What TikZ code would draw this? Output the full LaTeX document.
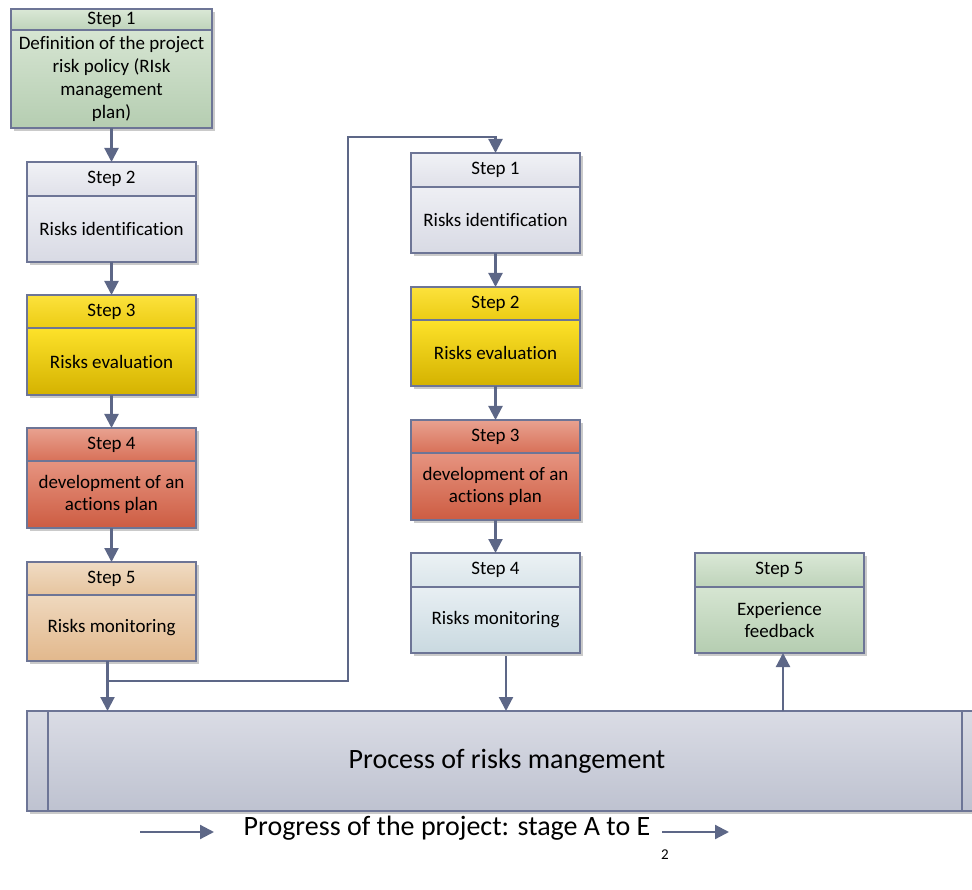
\documentclass[tikz,border=0pt]{standalone}
\usepackage{fontspec}
\setmainfont{Carlito}[Ligatures=NoCommon]
\usetikzlibrary{arrows.meta,shadows}
\definecolor{bord}{HTML}{6D7596}
\definecolor{arrc}{HTML}{5D6787}
\tikzset{
  box/.style={draw=bord, line width=1.4pt, outer sep=0pt, inner sep=2pt, align=center,
    minimum width=169pt, text=black, font=\fontsize{19}{22.8}\selectfont,
    drop shadow={shadow xshift=3pt, shadow yshift=-3pt, opacity=0.35, fill=black!60}},
  hgreen/.style={top color={rgb,255:red,218;green,232;blue,214}, bottom color={rgb,255:red,190;green,211;blue,186}},
  bgreen/.style={top color={rgb,255:red,214;green,229;blue,210}, bottom color={rgb,255:red,181;green,205;blue,177}},
  hgray/.style={top color={rgb,255:red,241;green,242;blue,246}, bottom color={rgb,255:red,224;green,225;blue,233}},
  bgray/.style={top color={rgb,255:red,238;green,239;blue,244}, bottom color={rgb,255:red,216;green,218;blue,228}},
  hyel/.style={top color={rgb,255:red,252;green,226;blue,60}, bottom color={rgb,255:red,236;green,204;blue,20}},
  byel/.style={top color={rgb,255:red,253;green,226;blue,42}, bottom color={rgb,255:red,212;green,178;blue,0}},
  hred/.style={top color={rgb,255:red,232;green,162;blue,144}, bottom color={rgb,255:red,216;green,112;blue,88}},
  bred/.style={top color={rgb,255:red,230;green,148;blue,128}, bottom color={rgb,255:red,205;green,92;blue,66}},
  htan/.style={top color={rgb,255:red,240;green,220;blue,196}, bottom color={rgb,255:red,230;green,196;blue,158}},
  btan/.style={top color={rgb,255:red,239;green,216;blue,190}, bottom color={rgb,255:red,226;green,184;blue,140}},
  hblue/.style={top color={rgb,255:red,236;green,242;blue,245}, bottom color={rgb,255:red,218;green,229;blue,234}},
  bblue/.style={top color={rgb,255:red,232;green,239;blue,243}, bottom color={rgb,255:red,201;green,217;blue,224}},
  barfill/.style={top color={rgb,255:red,218;green,220;blue,229}, bottom color={rgb,255:red,190;green,194;blue,208}},
  arr/.style={draw=arrc, line width=2.2pt, -{Triangle[length=14pt,width=14pt]}},
}
\begin{document}
\begin{tikzpicture}[x=1pt,y=-1pt]
\useasboundingbox (0,0) rectangle (972,890);
\clip (0,0) rectangle (972,890);
% left column
\node[box, hgreen, minimum width=201pt, minimum height=21pt, inner ysep=0pt, anchor=north west] (l1h) at (11,9) {Step 1};
\node[box, bgreen, minimum width=201pt, minimum height=98pt, anchor=north] (l1b) at (l1h.south) {Definition of the project\\risk policy (RIsk\\management\\plan)};
\node[box, hgray, minimum height=34pt, anchor=north west] (l2h) at (27,162) {Step 2};
\node[box, bgray, minimum height=66pt, anchor=north] (l2b) at (l2h.south) {Risks identification};
\node[box, hyel, minimum height=33pt, anchor=north west] (l3h) at (27,295) {Step 3};
\node[box, byel, minimum height=67pt, anchor=north] (l3b) at (l3h.south) {Risks evaluation};
\node[box, hred, minimum height=33pt, anchor=north west] (l4h) at (27,428) {Step 4};
\node[box, bred, minimum height=67pt, anchor=north] (l4b) at (l4h.south) {development of an\\actions plan};
\node[box, htan, minimum height=33pt, anchor=north west] (l5h) at (27,562) {Step 5};
\node[box, btan, minimum height=66pt, anchor=north] (l5b) at (l5h.south) {Risks monitoring};
% right column
\node[box, hgray, minimum height=34pt, anchor=north west] (r1h) at (411,153) {Step 1};
\node[box, bgray, minimum height=66pt, anchor=north] (r1b) at (r1h.south) {Risks identification};
\node[box, hyel, minimum height=33pt, anchor=north west] (r2h) at (411,287) {Step 2};
\node[box, byel, minimum height=66pt, anchor=north] (r2b) at (r2h.south) {Risks evaluation};
\node[box, hred, minimum height=33pt, anchor=north west] (r3h) at (411,420) {Step 3};
\node[box, bred, minimum height=67pt, anchor=north] (r3b) at (r3h.south) {development of an\\actions plan};
\node[box, hblue, minimum height=34pt, anchor=north west] (r4h) at (411,553) {Step 4};
\node[box, bblue, minimum height=66pt, anchor=north] (r4b) at (r4h.south) {Risks monitoring};
\node[box, hgreen, minimum height=34pt, anchor=north west] (r5h) at (695,553) {Step 5};
\node[box, bgreen, minimum height=66pt, anchor=north] (r5b) at (r5h.south) {Experience\\feedback};
% process bar
\node[box, barfill, minimum width=960pt, minimum height=100pt, anchor=north west, font=\fontsize{28}{32}\selectfont] (bar) at (27,711) {Process of risks mangement};
\draw[bord, line width=1.4pt] ([xshift=21pt]bar.north west) -- ([xshift=21pt]bar.south west);
\draw[bord, line width=1.4pt] ([xshift=935pt]bar.north west) -- ([xshift=935pt]bar.south west);
% connectors
\draw[arr] (l1b.south) -- (l2h.north);
\draw[arr] (l2b.south) -- (l3h.north);
\draw[arr] (l3b.south) -- (l4h.north);
\draw[arr] (l4b.south) -- (l5h.north);
\draw[arr] ([xshift=-4pt]l5b.south) -- ([xshift=-4pt]l5b.south |- bar.north);
\coordinate (j) at (107,681);
\coordinate (c1) at (348,681);
\coordinate (c2) at (348,137);
\coordinate (c3) at (r1h.north |- c2);
\draw[arr] (j) -- (c1) -- (c2) -- (c3) -- (r1h.north);
\draw[arr] (r1b.south) -- (r2h.north);
\draw[arr] (r2b.south) -- (r3h.north);
\draw[arr] (r3b.south) -- (r4h.north);
\draw[arr] ([xshift=10.5pt,yshift=-3pt]r4b.south) -- ([xshift=10.5pt]r4b.south |- bar.north);
\draw[arr] ([xshift=3.5pt]r5b.south |- bar.north) -- ([xshift=3.5pt]r5b.south);
% progress legend
\coordinate (pa1) at (140,832);
\coordinate (pa2) at (214,832);
\coordinate (pb1) at (662,832);
\coordinate (pb2) at (729,832);
\draw[arr] (pa1) -- (pa2);
\draw[arr] (pb1) -- (pb2);
\node[font=\fontsize{28}{32}\selectfont, inner sep=0pt] (prog) at (447,828) {Progress of the project: stage A to E};
\node[font=\fontsize{15}{18}\selectfont, inner sep=0pt] (num) at (665,855) {2};
\end{tikzpicture}
\end{document}
